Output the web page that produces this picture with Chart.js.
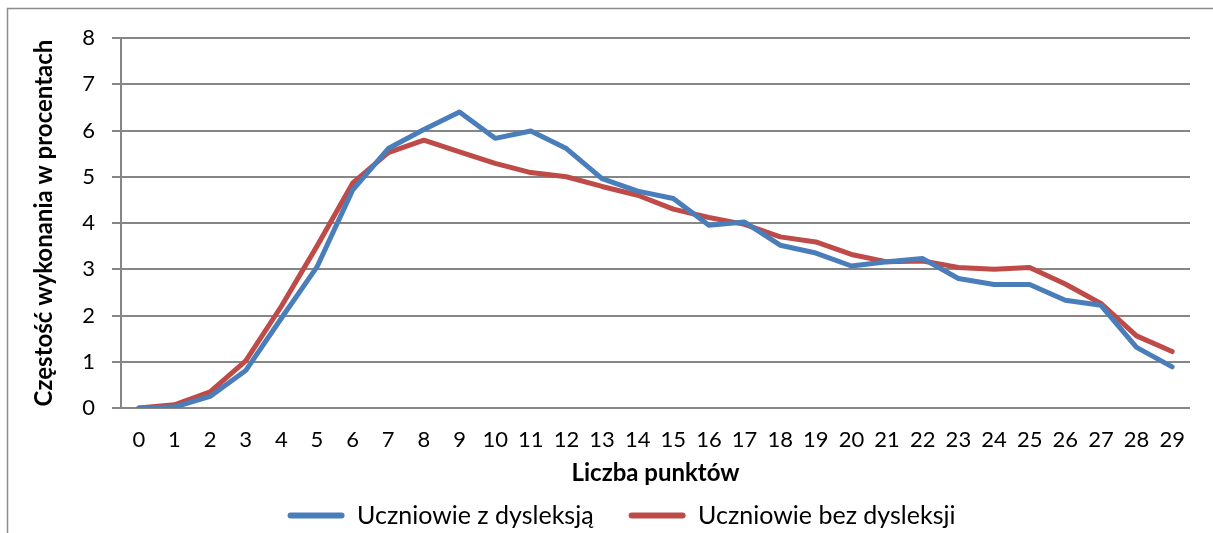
<!DOCTYPE html>
<html>
<head>
<meta charset="utf-8">
<script src="https://cdn.jsdelivr.net/npm/chart.js@4/dist/chart.umd.min.js"></script>
<style>
  html, body { margin: 0; padding: 0; background: #fff; }
  #wrap { width: 1213px; height: 533px; }
</style>
</head>
<body>
<div id="wrap"><canvas id="chart"></canvas></div>
<script>
var punkty = ['0', '1', '2', '3', '4', '5', '6', '7', '8', '9', '10', '11', '12', '13', '14',
              '15', '16', '17', '18', '19', '20', '21', '22', '23', '24', '25', '26', '27', '28', '29'];

// Uczniowie z dysleksją
var zDysleksja = [0, 0.02, 0.25, 0.81, 1.94, 3.05, 4.71, 5.61, 6.02, 6.4, 5.83, 5.99, 5.61, 4.96, 4.69,
                  4.53, 3.95, 4.02, 3.52, 3.35, 3.07, 3.16, 3.23, 2.8, 2.67, 2.67, 2.33, 2.22, 1.31, 0.89];

// Uczniowie bez dysleksji
var bezDysleksji = [0, 0.07, 0.35, 1.02, 2.2, 3.5, 4.86, 5.52, 5.79, 5.54, 5.29, 5.09, 5.0, 4.79, 4.6,
                    4.3, 4.12, 3.97, 3.7, 3.59, 3.32, 3.16, 3.18, 3.04, 3.0, 3.04, 2.68, 2.26, 1.56, 1.22];

var FONT = 'Lato';
var GRID = '#868686';

// white background + thin frame like the Excel chart area
var frame = {
  id: 'frame',
  beforeDraw: function(chart) {
    var ctx = chart.ctx;
    ctx.save();
    ctx.fillStyle = '#fff';
    ctx.fillRect(0, 0, chart.width, chart.height);
    ctx.strokeStyle = '#8c8c8c';
    ctx.lineWidth = 1.5;
    ctx.strokeRect(7.5, 8.5, chart.width + 20, chart.height + 20);
    ctx.restore();
  }
};

// nudge the legend where Excel put it
var legendShift = {
  id: 'legendShift',
  afterLayout: function(chart) {
    var lg = chart.legend;
    if (!lg) return;
    var dx = 23, dy = 5;
    lg.left += dx; lg.right += dx;
    lg.top += dy; lg.bottom += dy;
  }
};

Chart.defaults.font.family = FONT;
Chart.defaults.color = '#000';

new Chart(document.getElementById('chart'), {
  type: 'line',
  data: {
    labels: punkty,
    datasets: [{
      label: 'Uczniowie z dysleksją',
      data: zDysleksja,
      borderColor: '#4a7ebb',
      backgroundColor: '#4a7ebb',
      borderWidth: 5,
      pointRadius: 0,
      tension: 0,
      borderJoinStyle: 'round',
      borderCapStyle: 'round'
    }, {
      label: 'Uczniowie bez dysleksji',
      data: bezDysleksji,
      borderColor: '#be4b48',
      backgroundColor: '#be4b48',
      borderWidth: 5,
      pointRadius: 0,
      tension: 0,
      borderJoinStyle: 'round',
      borderCapStyle: 'round'
    }]
  },
  options: {
    responsive: true,
    maintainAspectRatio: false,
    animation: false,
    layout: { padding: { left: 7, top: 38, right: 23, bottom: 0 } },
    plugins: {
      tooltip: { enabled: false },
      legend: {
        position: 'bottom',
        labels: {
          font: { size: 25 },
          boxWidth: 57,
          boxHeight: 6,
          padding: 35,
          generateLabels: function(chart) {
            return chart.data.datasets.map(function(ds, i) {
              return {
                text: ds.label,
                fillStyle: ds.borderColor,
                strokeStyle: ds.borderColor,
                lineWidth: 0,
                borderRadius: 3,
                datasetIndex: i,
                hidden: false
              };
            });
          }
        }
      }
    },
    scales: {
      x: {
        offset: true,
        grid: { display: false, drawTicks: false },
        border: { display: false },
        ticks: { font: { size: 22 }, padding: 19, maxRotation: 0, autoSkip: false },
        title: {
          display: true,
          text: 'Liczba punktów',
          font: { size: 24, weight: 'bold' },
          padding: { top: 0, bottom: -25 }
        },
        afterFit: function(scale) { scale.height = 55; }
      },
      y: {
        min: 0,
        max: 8,
        ticks: { stepSize: 1, font: { size: 22 }, padding: 17 },
        grid: { color: GRID, lineWidth: 2, tickLength: 9 },
        border: { color: GRID, width: 2 },
        title: {
          display: true,
          text: 'Częstość wykonania w procentach',
          font: { size: 24, weight: 'bold' },
          padding: { top: 23, bottom: 0 }
        },
        afterFit: function(scale) { scale.width = 114; }
      }
    }
  },
  plugins: [frame, legendShift]
});
</script>
</body>
</html>
